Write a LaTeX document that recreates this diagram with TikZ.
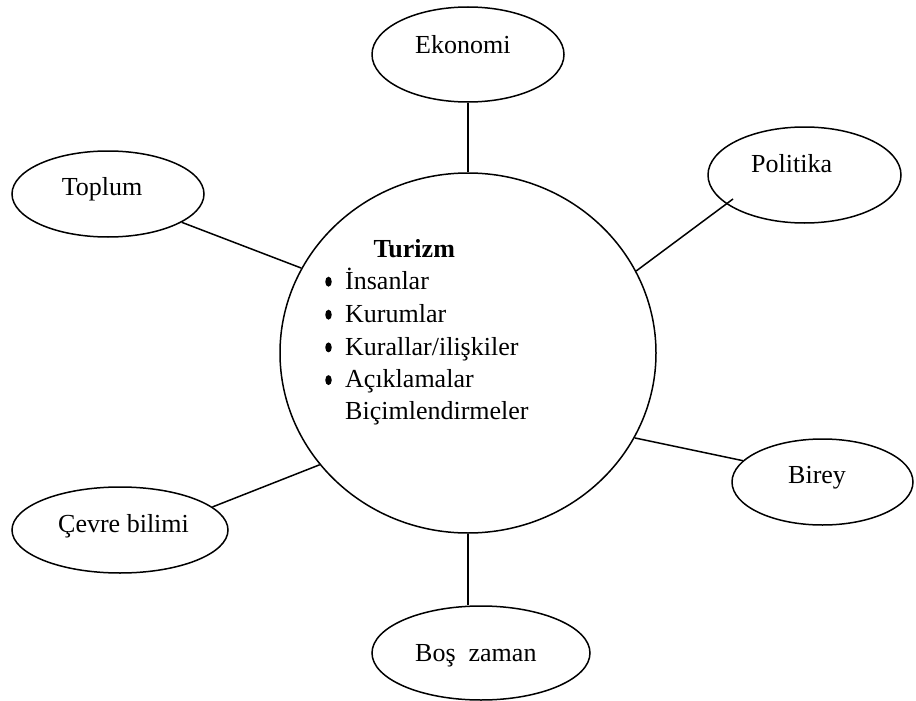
\documentclass[tikz,border=0pt]{standalone}
\usepackage{fontspec}
\setmainfont{Liberation Serif}
\usetikzlibrary{shapes.geometric}
\begin{document}
\begin{tikzpicture}[x=1pt,y=-1pt,
  bubble/.style={draw, ellipse, line width=1.5pt, inner sep=0pt},
  link/.style={line width=1.5pt},
  lbl/.style={anchor=base west, inner sep=0pt, font=\fontsize{26}{32}\selectfont},
  dot/.style={fill, ellipse, inner sep=0pt, minimum width=6.5pt, minimum height=10pt}]
\useasboundingbox (0,0) rectangle (916,701);

% central concept and its surrounding fields
\node[bubble, minimum width=376pt, minimum height=360pt] (turizm) at (468,353) {};
\node[bubble, minimum width=192pt, minimum height=95pt] (ekonomi) at (468,54.5) {};
\node[bubble, minimum width=192pt, minimum height=86pt] (toplum) at (108,194) {};
\node[bubble, minimum width=193pt, minimum height=96pt] (politika) at (804.5,175) {};
\node[bubble, minimum width=216pt, minimum height=86pt] (cevre) at (120,530) {};
\node[bubble, minimum width=181pt, minimum height=86pt] (birey) at (822.5,482) {};
\node[bubble, minimum width=218pt, minimum height=94pt] (bos) at (481,653) {};

% labels
\node[lbl] (ekonomiT) at (415,54) {Ekonomi};
\node[lbl] (toplumT) at (61.7,195) {Toplum};
\node[lbl] (politikaT) at (751,172.7) {Politika};
\node[lbl] (cevreT) at (58,532.7) {Çevre bilimi};
\node[lbl] (bireyT) at (788,483.3) {Birey};
\node[lbl] (bosT) at (415,661.7) {Boş\ \ zaman};

% contents of the central circle
\node[lbl, font=\fontsize{26}{32}\selectfont\bfseries] (turizmT) at (373.3,257.7) {Turizm};
\node[lbl] (i1) at (345,289.3) {İnsanlar};
\node[lbl] (i2) at (345,322.3) {Kurumlar};
\node[lbl] (i3) at (345,355) {Kurallar/ilişkiler};
\node[lbl] (i4) at (345,387.7) {Açıklamalar};
\node[lbl] (i5) at (345,419) {Biçimlendirmeler};
\node[dot] (b1) at (328.5,281.7) {};
\node[dot] (b2) at (328.5,314.7) {};
\node[dot] (b3) at (328.5,347.4) {};
\node[dot] (b4) at (328.5,380.1) {};

% connectors
\coordinate (politikaEnd) at (733,199);
\draw[link] (turizm.90) -- (ekonomi.270);
\draw[link] (turizm.153.8) -- (toplum.-21.9);
\draw[link] (turizm.26.2) -- (politikaEnd);
\draw[link] (turizm.-27.2) -- (birey.165);
\draw[link] (turizm.217) -- (cevre.14);
\draw[link] (turizm.270) -- (turizm.270 |- bos.north);
\end{tikzpicture}
\end{document}
